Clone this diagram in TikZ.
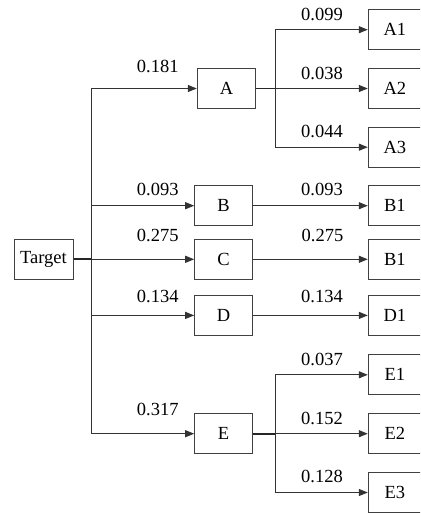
\documentclass[tikz,border=0pt]{standalone}
\usepackage{fontspec}
\setmainfont{Liberation Serif}
\newfontfamily\diagfont{Liberation Serif}
\usetikzlibrary{arrows.meta}
\begin{document}
\begin{tikzpicture}[x=1pt,y=1pt,
  font=\diagfont\fontsize{18.5}{21}\selectfont,
  box/.style={draw=black!75, line width=1pt, minimum width=58pt, minimum height=40pt, inner sep=0pt},
  rbox/.style={box, minimum width=53pt},
  lbl/.style={inner sep=0pt},
  conn/.style={draw=black!80, line width=1.1pt},
  arr/.style={conn, -{Triangle[length=9pt,width=7pt]}},
  thk/.style={draw=black!85, line width=1.8pt}]
\useasboundingbox (0,0) rectangle (420,-513);
\clip (0,0) rectangle (420,-513);
% nodes
\node[box, minimum width=59pt] (T) at (43.5,-259.3) {Target};
\node[box, minimum width=58.4pt] (A) at (226.5,-88.5) {A};
\node[box, minimum width=57.6pt] (B) at (223.5,-205.7) {B};
\node[box, minimum width=57.6pt] (C) at (223.5,-259.3) {C};
\node[box, minimum width=57.6pt] (D) at (223.5,-315.4) {D};
\node[box, minimum width=57.6pt] (E) at (223.5,-433.7) {E};
\node[rbox] (A1) at (394.8,-29.7) {A1};
\node[rbox] (A2) at (394.8,-88.5) {A2};
\node[rbox] (A3) at (394.8,-147.2) {A3};
\node[rbox] (B1) at (394.8,-205.7) {B1};
\node[rbox] (C1) at (394.8,-259.3) {B1};
\node[rbox] (D1) at (394.8,-315.4) {D1};
\node[rbox] (E1) at (394.8,-374.8) {E1};
\node[rbox] (E2) at (394.8,-433.7) {E2};
\node[rbox] (E3) at (394.8,-492.5) {E3};
% junction coordinates
\coordinate (tr) at (91.7,0);
\coordinate (ba) at (275.3,0);
% trunk
\path[thk] (T.east) -- (T.east -| tr);
\path[conn] (tr |- A.west) -- (tr |- E.west);
\foreach \n in {A,B,C,D,E} {\path[arr] (tr |- \n.west) -- (\n.west);}
% A branch
\path[thk] (A.east) -- (A.east -| ba);
\path[conn] (ba |- A1.west) -- (ba |- A3.west);
\foreach \n in {A1,A2,A3} {\path[arr] (ba |- \n.west) -- (\n.west);}
% B, C, D
\path[arr] (B.east) -- (B1.west);
\path[arr] (C.east) -- (C1.west);
\path[arr] (D.east) -- (D1.west);
% E branch
\path[thk] (E.east) -- (E.east -| ba);
\path[conn] (ba |- E1.west) -- (ba |- E3.west);
\foreach \n in {E1,E2,E3} {\path[arr] (ba |- \n.west) -- (\n.west);}
% labels
\node[lbl] (lA) at (157.7,-66.7) {0.181};
\node[lbl] (lB) at (157.7,-189.3) {0.093};
\node[lbl] (lC) at (157.7,-235) {0.275};
\node[lbl] (lD) at (157.7,-296) {0.134};
\node[lbl] (lE) at (157.7,-409) {0.317};
\node[lbl] (lA1) at (322,-14) {0.099};
\node[lbl] (lA2) at (322,-73) {0.038};
\node[lbl] (lA3) at (322,-131) {0.044};
\node[lbl] (lB1) at (322,-189.3) {0.093};
\node[lbl] (lC1) at (322.5,-235) {0.275};
\node[lbl] (lD1) at (322,-296) {0.134};
\node[lbl] (lE1) at (322,-359.3) {0.037};
\node[lbl] (lE2) at (322,-418.3) {0.152};
\node[lbl] (lE3) at (322,-476.7) {0.128};
\end{tikzpicture}
\end{document}
